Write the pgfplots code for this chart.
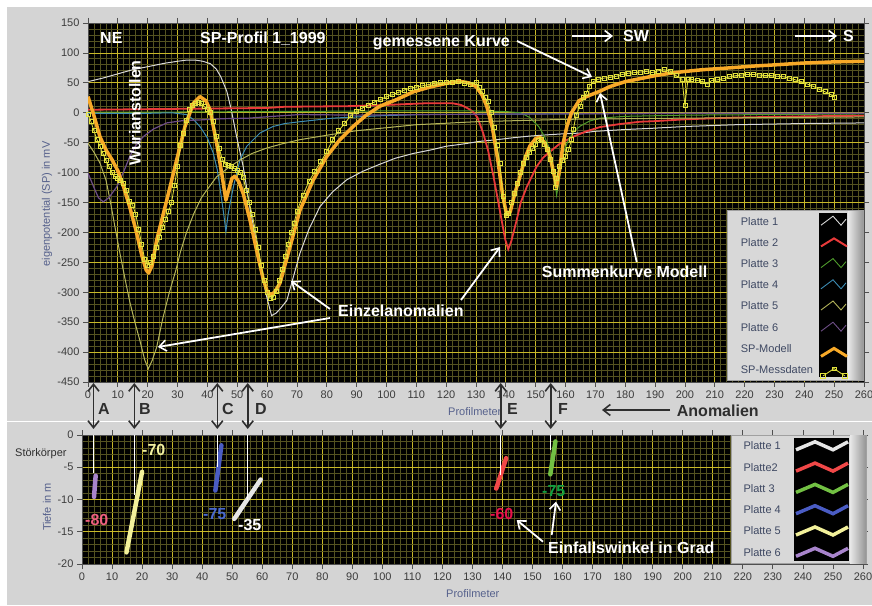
\documentclass[border=0pt]{standalone}
\usepackage{fontspec}
\setmainfont{Liberation Sans}
\usepackage{pgfplots}
\pgfplotsset{compat=1.18}
\usetikzlibrary{arrows.meta}

\definecolor{panel}{HTML}{D4D4D4}
\definecolor{gmaj}{RGB}{200,184,40}
\definecolor{gmin}{RGB}{84,82,32}
\definecolor{ticklab}{HTML}{3C3C3C}
\definecolor{axlab}{HTML}{56618C}
\definecolor{legtxt}{HTML}{3E4862}
\definecolor{frame}{HTML}{505050}
\definecolor{dark}{HTML}{2E2E2E}
\definecolor{legbg}{RGB}{216,216,216}
\definecolor{legbd}{RGB}{160,160,160}
\definecolor{shl}{RGB}{232,232,232}
\definecolor{shd}{RGB}{150,150,150}
% top plot
\definecolor{p1}{HTML}{D8D8D8}
\definecolor{p2}{HTML}{E83A3A}
\definecolor{p3}{HTML}{4E9A2C}
\definecolor{p4}{HTML}{3C8CB4}
\definecolor{p5}{HTML}{B4B45A}
\definecolor{p6}{HTML}{6E4E86}
\definecolor{spm}{HTML}{F7A928}
\definecolor{spd}{HTML}{E2E23C}
% bottom plot
\definecolor{b1}{HTML}{E6E6E6}
\definecolor{b2}{HTML}{F04848}
\definecolor{b3}{HTML}{72C043}
\definecolor{b4}{HTML}{4A5CC4}
\definecolor{b5}{HTML}{F2F09A}
\definecolor{b6}{HTML}{A884CC}
% dip angle labels
\definecolor{t80}{RGB}{240,96,128}
\definecolor{t70}{RGB}{242,240,160}
\definecolor{t75b}{RGB}{74,106,208}
\definecolor{t60}{RGB}{232,16,74}
\definecolor{t75g}{RGB}{16,160,64}

\pgfplotsset{lv/.style={scale only axis, axis background/.style={fill=black},
  grid=both, minor x tick num=4, minor y tick num=4,
  major grid style={gmaj, line width=0.8pt}, minor grid style={gmin, line width=0.8pt},
  tick align=outside, major tick length=5pt, minor tick length=0pt,
  tick style={frame, line width=0.8pt}, axis line style={frame},
  ticklabel style={font=\fontsize{11}{12}\selectfont, text=ticklab},
  /pgf/number format/assume math mode=true, clip=true}}

\newcommand{\bld}{\fontsize{16}{18}\selectfont\bfseries}
\newcommand{\sml}{\fontsize{11}{12}\selectfont}

\begin{document}
\begin{tikzpicture}
\useasboundingbox (0,0) rectangle (872pt,605pt);
\fill[white] (0,0) rectangle (872pt,605pt);
\fill[panel] (7pt,0) rectangle (872pt,598pt);
\draw[white, line width=1.5pt] (7pt,183.5pt) -- (872pt,183.5pt);

% ---------- top: SP profile ----------
\begin{axis}[lv, at={(88pt,223pt)}, anchor=south west, width=776pt, height=359pt,
  xmin=0, xmax=260, ymin=-450, ymax=150,
  xtick={0,10,...,260}, ytick={-450,-400,...,150}]
\addplot[p1, line width=1pt] coordinates {(0,52)(5,58)(10,65)(15,72)(20,77)(26,83)(30,86)(33,88)(36,88)(38.5,86)(41,82)(43,73)(44.5,60)(46.5,36)(48,5)(49.8,-40)(52,-90)(54.3,-160)(56,-205)(57.6,-247)(59.5,-300)(61.5,-339)(63,-335)(64.5,-327)(66.6,-314)(68.5,-280)(71,-235)(74,-195)(77.7,-157)(82,-132)(86.7,-112)(92,-98)(97.8,-86)(103,-76)(109,-68)(115,-62)(120,-56)(126,-52)(131,-48)(137,-45)(142,-42)(148,-39)(153.6,-37)(160,-35)(165,-34)(170,-31)(180,-28)(189,-26)(200,-23)(217,-20)(240,-18)(260,-17)};
\addplot[p2, line width=1.8pt] coordinates {(0,5)(20,6)(40,7)(60,8)(66,10)(87,11)(100,13)(114,16)(122,16)(125,13)(127,8)(129,2)(130.5,-8)(132.4,-34)(134,-62)(135.8,-105)(137.3,-145)(138.6,-180)(139.8,-212)(140.8,-228)(141.8,-215)(143.6,-180)(145,-150)(147,-124)(150.3,-90)(152.5,-75)(154.8,-65)(158,-52)(162.6,-40)(167,-31)(171.5,-24)(178,-19)(185,-15)(190,-14)(200,-11)(217,-8)(240,-6)(260,-5)};
\addplot[p3, line width=1pt] coordinates {(0,1)(20,1)(60,2)(100,3)(130,3)(140,2)(145,0)(148,-8)(151,-23)(153,-40)(154.8,-62)(156,-95)(157,-138)(158,-110)(159.2,-68)(161,-45)(163,-30)(165,-22)(168,-14)(171.5,-9)(180,-6)(200,-4)(260,-2)};
\addplot[p4, line width=1pt] coordinates {(0,-1)(20,-1)(28,0)(33,-3)(35.5,-12)(37.5,-23)(40,-42)(42,-68)(43.3,-95)(44.2,-124)(45.6,-174)(46.2,-199)(47,-168)(48.7,-124)(50.9,-79)(53.2,-56)(57.6,-34)(62,-23)(66,-18)(71,-15)(82,-9)(98,-5)(112,-3)(150,-2)(200,-1)(260,-1)};
\addplot[p5, line width=1pt] coordinates {(0,-51)(2,-66)(4,-84)(6,-112)(7.4,-146)(9,-190)(10.7,-235)(12.5,-280)(14,-316)(15.7,-350)(17.4,-381)(19,-413)(20.2,-428)(21.5,-414)(23,-392)(25,-345)(27,-305)(29.5,-262)(31,-232)(33,-200)(35.5,-168)(38,-142)(40,-128)(43.1,-107)(47,-92)(50.9,-79)(55,-68)(59.9,-59)(65,-52)(71,-45)(82,-36)(90,-30)(100,-25)(110,-20)(130,-15)(160,-11)(200,-9)(260,-7)};
\addplot[p6, line width=1.2pt] coordinates {(0,-101)(2,-125)(3.5,-142)(5.1,-149)(7,-142)(9.6,-124)(12,-98)(14,-73)(16,-55)(18.5,-40)(22,-27)(26.4,-17)(32,-13)(37.5,-12)(45,-10)(54,-9)(62,-6)(71,-3)(90,-4)(112,-3)(150,-2)(200,-1)(260,-1)};
% SP-Modell
\addplot[spm, line width=3.5pt, line join=round] coordinates {(0,27)(2,-5)(4,-40)(6,-62)(8,-78)(10,-97)(12,-125)(14,-158)(16,-195)(18,-238)(19.5,-263)(20.3,-268)(21.5,-255)(23,-213)(26.4,-146)(29.7,-79)(32.5,-23)(35.3,16)(37.5,27)(39.5,20)(40.9,5)(43.1,-51)(44.8,-101)(46.2,-146)(47.2,-128)(48.2,-110)(49.2,-106)(50.5,-115)(52,-135)(54.3,-180)(56.5,-230)(58.7,-278)(60,-298)(61,-305)(62.5,-300)(64.3,-285)(67.7,-224)(71,-163)(75.5,-112)(80,-73)(84.4,-45)(88.8,-23)(93,-5)(97.8,11)(103.4,22)(109,35)(114.6,43)(120,49)(124.6,52.5)(127.5,50)(130,44)(132,30)(133.6,11)(135.5,-25)(137.3,-79)(139,-140)(140.3,-171)(141.5,-165)(143,-135)(144.7,-107)(146.5,-75)(148,-56)(150,-43)(151.4,-41)(153,-50)(154.8,-73)(156,-100)(157,-124)(158,-95)(159.2,-51)(160.5,-22)(162,0)(164.5,20)(167,27)(171.5,36)(175,44)(180,52)(185,57)(190,62)(195,66)(200,69)(206,72)(215,75)(223,78)(230,80)(239.5,83)(250,85)(260,86)};
% SP-Messdaten
\addplot[spd, line width=0.8pt, mark=square, mark size=2pt, mark options={solid, line width=0.7pt}] coordinates {(0,-2)(1,-15)(2,-30)(3,-45)(4,-56)(5,-68)(6,-80)(7,-90)(8,-100)(9,-107)(10,-110)(11,-113)(12,-118)(13,-130)(14,-148)(15,-155)(16,-170)(17,-195)(18,-220)(19,-245)(20,-255)(21,-250)(22,-240)(23,-225)(24,-208)(25,-191)(26,-178)(27,-165)(28,-150)(29,-121)(30,-90)(31,-55)(32,-35)(33,-12)(34,5)(35,12)(36,15)(37,18)(38,16)(39,10)(40,5)(41,0)(42,-15)(43,-40)(44,-60)(45,-78)(46,-86)(47,-88)(48,-90)(49,-93)(50,-97)(51,-100)(52,-108)(53,-130)(54,-150)(55,-170)(56,-195)(57,-225)(58,-255)(59,-280)(60,-300)(61,-310)(62,-308)(63,-298)(64,-280)(65,-262)(66,-240)(67,-220)(68,-200)(69,-185)(70,-165)(72,-138)(74,-115)(76,-98)(78,-82)(80,-65)(82,-45)(84,-30)(86,-18)(88,-5)(90,2)(92,8)(94,13)(96,18)(98,22)(100,27)(102,30)(104,34)(106,38)(108,41)(110,43)(112,45)(114,47)(116,49)(118,50)(120,51)(122,51)(124,52)(126,49)(128,48)(130,50)(131,42)(132,35)(133,25)(134,19)(135,0)(136,-25)(137,-55)(138,-85)(139,-140)(140,-172)(141,-168)(142,-150)(143,-135)(144,-118)(145,-100)(146,-85)(147,-75)(148,-66)(149,-60)(150,-52)(151,-46)(152,-45)(153,-52)(154,-62)(155,-78)(156,-98)(156.5,-124)(157,-110)(158,-90)(159,-80)(160,-73)(161,-62)(162,-45)(162.6,-28)(163.5,-5)(164.8,10)(166,25)(167,33)(168,44)(169.3,52)(171,56)(173,58)(175,59)(177,61)(179,64)(181,66)(183,67)(185,68)(187,69)(189,67)(191,70)(193,72)(195,70)(197,62)(199,56)(200,13)(201,55)(202,56)(204,54)(206,52)(207.5,48)(209,54)(211,55)(213,57)(215,60)(217,62)(219,63)(221,64)(223,64)(225,63)(227,62)(229,62)(231,61)(233,60)(235,58)(237,55)(239,52)(241,48)(243,44)(245,39)(247,35)(249,30)(250,26)};
\end{axis}

% ---------- bottom: plates ----------
\begin{axis}[lv, at={(82pt,41pt)}, anchor=south west, width=781pt, height=129pt,
  xmin=0, xmax=260, ymin=-20, ymax=0,
  xtick={0,10,...,260}, ytick={-20,-15,...,0}]
\addplot[b6, line width=4.5pt, line cap=round] coordinates {(4.0,-9.6)(4.55,-6.3)};
\addplot[b5, line width=4.5pt, line cap=round] coordinates {(14.8,-18.2)(20.0,-5.7)};
\addplot[b4, line width=4.5pt, line cap=round] coordinates {(44.4,-8.6)(46.4,-1.6)};
\addplot[b1, line width=4.5pt, line cap=round] coordinates {(50.7,-13.0)(59.5,-6.9)};
\addplot[b2, line width=4.5pt, line cap=round] coordinates {(137.9,-8.3)(141.2,-3.6)};
\addplot[b3, line width=4.5pt, line cap=round] coordinates {(155.9,-6.1)(157.6,-1.0)};
\end{axis}

% ---------- annotations (pixel coordinates) ----------
\begin{scope}[x=1pt, y=-1pt, yshift=605pt]
% axis labels
\node[rotate=90, text=axlab, font=\sml] at (47,204) {eigenpotential (SP) in mV};
\node[anchor=base west, inner sep=0, text=axlab, font=\sml] at (448,415.5) {Profilmeter};
\node[rotate=90, text=axlab, font=\sml] at (47,507) {Tiefe in m};
\node[anchor=base west, inner sep=0, text=axlab, font=\sml] at (446,597) {Profilmeter};
\node[anchor=base west, inner sep=0, text=dark, font=\sml] at (15,457) {Störkörper};

% white titles
\begin{scope}[every node/.style={anchor=base west, inner sep=0, text=white, font=\bld}]
\node at (100,43.3) {NE};
\node at (200,43.5) {SP-Profil 1\_1999};
\node at (372.7,46.3) {gemessene Kurve};
\node at (623,41.7) {SW};
\node at (843,41.7) {S};
\node at (338,316.7) {Einzelanomalien};
\node at (541.7,278) {Summenkurve Modell};
\node at (548,553.3) {Einfallswinkel in Grad};
\end{scope}
\node[rotate=90, text=white, font=\bld, inner sep=0] at (135,113) {Wurianstollen};

% white arrows
\begin{scope}[white, line width=1.8pt, -{Straight Barb[length=7pt,width=11pt,line width=1.6pt]}]
\draw (517,41) -- (592,77);
\draw (636.7,262) -- (600,93);
\draw (330,309) -- (291,281);
\draw (330,318) -- (158,347);
\draw (461,300) -- (500,247);
\draw (572,36) -- (613,36);
\draw (795,36) -- (837,36);
\draw (543,541.7) -- (516.7,520);
\draw (551.7,535) -- (556,501.7);
\end{scope}

% anomaly markers A-F
\begin{scope}[dark, line width=1.6pt, {Straight Barb[length=7pt,width=11pt]}-{Straight Barb[length=7pt,width=11pt]}]
\foreach \x in {93.5,134.3,217.3,247.7,500.7,550.7} \draw (\x,383) -- (\x,429);
\end{scope}
\begin{scope}[white, line width=0.8pt]
\draw (93.5,435) -- (93.5,473);
\draw (134.3,435) -- (134.3,495);
\draw (217.3,435) -- (217.3,467);
\draw (247.7,435) -- (247.7,500);
\draw (500.7,435) -- (500.7,475);
\draw (550.7,435) -- (550.7,450);
\end{scope}
\begin{scope}[every node/.style={anchor=base west, inner sep=0, text=dark, font=\bld}]
\node at (98,415) {A};
\node at (139,415) {B};
\node at (222,415) {C};
\node at (255,415) {D};
\node at (507,415) {E};
\node at (558,415) {F};
\node at (676.7,416.7) {Anomalien};
\end{scope}
\draw[dark, line width=1.6pt, -{Straight Barb[length=7pt,width=11pt]}] (670,410) -- (602,410);

% dip angles
\begin{scope}[every node/.style={anchor=base west, inner sep=0, font=\bld}]
\node[text=t80] at (85,525) {-80};
\node[text=t70] at (142,455.7) {-70};
\node[text=t75b] at (203,519.3) {-75};
\node[text=white] at (238,530) {-35};
\node[text=t60] at (490,519) {-60};
\node[text=t75g] at (542,496) {-75};
\end{scope}

% legend top
\fill[legbg] (726.7,210.7) rectangle (863.3,380);
\draw[legbd] (726.7,210.7) rectangle (863.3,380);
\shade[left color=shl, right color=shd] (848,211.2) rectangle (863,379.5);
\fill[black] (819.3,213.3) rectangle (847.3,377.3);
\foreach \t [count=\i] in {Platte 1,Platte 2,Platte 3,Platte 4,Platte 5,Platte 6,SP-Modell,SP-Messdaten}
  \node[anchor=west, inner sep=0, text=legtxt, font=\sml] at (740.7,{200+21.2*\i}) {\t};
\draw[p1, line width=0.9pt] (821,225.2) -- (833,216.2) -- (841,225.2) -- (846,219.2);
\draw[p2, line width=2pt] (821,246.4) -- (834,238.4) -- (847,246.4);
\draw[p3, line width=0.9pt] (821,267.6) -- (833,258.6) -- (841,267.6) -- (846,261.6);
\draw[p4, line width=0.9pt] (821,288.8) -- (833,279.8) -- (841,288.8) -- (846,282.8);
\draw[p5, line width=0.9pt] (821,310) -- (833,301) -- (841,310) -- (846,304);
\draw[p6, line width=0.9pt] (821,331.2) -- (833,322.2) -- (841,331.2) -- (846,325.2);
\draw[spm, line width=3pt] (821,356.4) -- (834,348.4) -- (847,356.4);
\draw[spd, line width=0.8pt] (823,376) -- (834,368.6) -- (845,376);
\draw[spd, line width=0.7pt] (820.5,373.5) rectangle (825.5,378) (842.5,373.5) rectangle (847,378) (832,367) rectangle (836,370.5);

% legend bottom
\fill[legbg] (730.7,435) rectangle (866,563.3);
\draw[legbd] (730.7,435) rectangle (866,563.3);
\shade[left color=shl, right color=shd] (850,435.5) rectangle (865.5,563);
\fill[black] (794,438.3) rectangle (849.3,560.7);
\foreach \t/\c [count=\i] in {Platte 1/b1,Platte2/b2,Platt 3/b3,Platte 4/b4,Platte 5/b5,Platte 6/b6} {
  \node[anchor=west, inner sep=0, text=legtxt, font=\sml] at (743.3,{424.5+21.3*\i}) {\t};
  \draw[\c, line width=3.5pt] (796,{424.5+21.3*\i+4}) -- (815,{424.5+21.3*\i-4}) -- (833,{424.5+21.3*\i+4}) -- (848,{424.5+21.3*\i-4});
}
\end{scope}
\end{tikzpicture}
\end{document}
